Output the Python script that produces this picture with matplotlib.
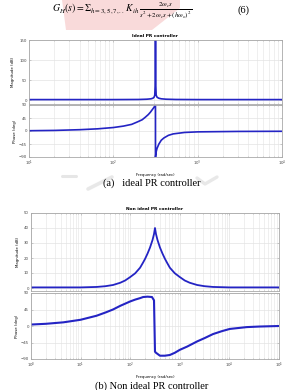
import numpy as np
import matplotlib
matplotlib.use("Agg")
import matplotlib.pyplot as plt
from matplotlib.patches import Polygon

# ---------------- data ----------------
# (a) ideal PR controller, frequency in rad/s
ideal_mag_w = [10, 100, 200, 250, 280, 295, 304, 310, 314, 316.2,
               318.5, 322, 330, 345, 370, 420, 550, 1000, 10000]
ideal_mag_db = [1, 1, 1.3, 2, 3, 4.5, 7, 12, 40, 170,
                40, 12, 7, 4.5, 3, 2, 1.3, 1, 1]
ideal_ph_w = [10, 20, 40, 65, 100, 132, 165, 195, 220, 240, 260, 275, 288, 300, 308, 313, 316.0,
              316.3, 322, 330, 347, 370, 398, 450, 513, 700, 1000, 3000, 10000]
ideal_ph_deg = [1, 2, 4.5, 7.5, 12, 17, 23, 32, 39, 48, 57, 65, 73, 80, 85, 88, 90,
                -90, -72, -60, -45, -32, -24, -15, -10, -5, -3, -1.5, -1]

# (b) non ideal PR controller
non_mag_w = [1, 10, 21, 31.6, 45, 63, 79, 100, 126, 158, 182, 200, 224, 251, 282, 302, 316,
             331, 355, 398, 447, 501, 550, 631, 794, 1000, 1259, 1585, 2239, 3162, 4677, 10000, 100000]
non_mag_db = [0.4, 0.4, 0.7, 1.2, 2, 3.5, 5, 7.3, 9.8, 13.5, 17, 19.5, 23, 27, 32, 36, 40,
              36, 32, 27, 23, 19.5, 17, 13.5, 9.8, 7.3, 5, 3.5, 2, 1.2, 0.7, 0.4, 0.4]
non_ph_w = [1, 2, 4.5, 10, 21, 32, 45, 63, 100, 126, 158, 182, 224, 275, 302, 316,
            331, 398, 501, 631, 794, 1000, 1413, 2240, 3162, 4680, 7080, 10200, 22400, 39800, 100000]
non_ph_deg = [4, 6, 10, 17, 28, 37, 45, 55, 67, 72, 76, 79, 80, 79, 70, -70,
              -73, -81, -81, -79, -73, -65, -56, -42, -33, -22, -14, -8, -3, -1.5, 0]

ideal_mag_ticks = [0, 50, 100, 150]
non_mag_ticks = [0, 10, 20, 30, 40, 50]
phase_ticks = [-90, -45, 0, 45, 90]

title_a = "Ideal PR controller"
title_b = "Non ideal PR controller"
caption_a = "(a)   ideal PR controller"
caption_b = "(b) Non ideal PR controller"
ylab_mag = "Magnitude (dB)"
ylab_ph = "Phase (deg)"
xlab = "Frequency (rad/sec)"

# ---------------- figure ----------------
W, H = 304, 390
fig = plt.figure(figsize=(W / 100, H / 100), dpi=100)
fig.patch.set_facecolor("white")

def fx(x):
    return x / W

def fy(y):
    return 1 - y / H

def box(x0, y0, x1, y1):
    return [fx(x0), fy(y1), fx(x1) - fx(x0), fy(y0) - fy(y1)]

# pink highlight behind the equation
bg = fig.add_axes([0, 0, 1, 1], zorder=-5)
bg.set_xlim(0, W)
bg.set_ylim(H, 0)
bg.axis("off")
bg.add_patch(Polygon([[62, 0], [180, 0], [180, 8], [152, 30], [66, 30]],
                     closed=True, facecolor="#f8d4d4", edgecolor="none", alpha=0.85))
# faint watermark strokes near caption (a)
bg.plot([62, 76], [176, 176], color="#e6e6e6", lw=2.2, solid_capstyle="round")
bg.plot([88, 112], [189, 177], color="#e8e8e8", lw=2.6, solid_capstyle="round")
bg.plot([197, 205, 217], [178, 184, 177], color="#e8e8e8", lw=2.4, solid_capstyle="round")

fig.text(fx(122), fy(10.5),
         r"$G_H(s) = \Sigma_{h=3,5,7,..}\,K_{ih}\,\frac{2\omega_c s}{s^2+2\omega_c s+(h\omega_o)^2}$",
         ha="center", va="center", fontsize=7.0, math_fontfamily="stix")
fig.text(fx(243), fy(10), "(6)", ha="center", va="center", fontsize=7.5,
         family="Liberation Serif")

BLUE = "#2424c4"
GRID = "#e3e3e3"
SPINE = "#a8a8a8"

def style(ax, xlim, ylim, yticks, show_x):
    ax.set_xscale("log")
    ax.set_xlim(*xlim)
    ax.set_ylim(*ylim)
    ax.set_yticks(yticks)
    ax.grid(True, which="major", color=GRID, lw=0.5)
    ax.grid(True, which="minor", axis="x", color=GRID, lw=0.4)
    for s in ax.spines.values():
        s.set_color(SPINE)
        s.set_linewidth(0.6)
    ax.tick_params(which="both", direction="in", length=1.5, width=0.4,
                   colors=SPINE, labelsize=2.8, labelcolor="#444444", pad=1.5,
                   top=True, right=True)
    ax.tick_params(which="minor", length=0.8)
    if not show_x:
        ax.tick_params(axis="x", which="both", labelbottom=False)

# ---- (a) ideal ----
ax1 = fig.add_axes(box(29, 40, 282, 104))
ax1.plot(ideal_mag_w, ideal_mag_db, color=BLUE, lw=1.2)
style(ax1, (10, 10000), (-10, 150), ideal_mag_ticks, False)
ax1.set_title(title_a, fontsize=3.2, fontweight="bold", pad=2.5)
ax1.set_ylabel(ylab_mag, fontsize=2.8, labelpad=3)

ax2 = fig.add_axes(box(29, 105, 282, 157))
ax2.plot(ideal_ph_w, ideal_ph_deg, color=BLUE, lw=1.2)
style(ax2, (10, 10000), (-90, 90), phase_ticks, True)
ax2.set_ylabel(ylab_ph, fontsize=2.8, labelpad=1.5)
ax2.set_xlabel(xlab, fontsize=2.8, labelpad=3)

fig.text(fx(152), fy(183), caption_a, ha="center", va="center", fontsize=7.5,
         family="Liberation Serif")

# ---- (b) non ideal ----
ax3 = fig.add_axes(box(31, 213, 279, 291))
ax3.plot(non_mag_w, non_mag_db, color=BLUE, lw=1.3)
style(ax3, (1, 100000), (-2, 50), non_mag_ticks, False)
ax3.set_title(title_b, fontsize=3.2, fontweight="bold", pad=2.5)
ax3.set_ylabel(ylab_mag, fontsize=2.8, labelpad=3)

ax4 = fig.add_axes(box(31, 293, 279, 359))
ax4.plot(non_ph_w, non_ph_deg, color=BLUE, lw=1.5)
style(ax4, (1, 100000), (-90, 90), phase_ticks, True)
ax4.set_ylabel(ylab_ph, fontsize=2.8, labelpad=1.5)
ax4.set_xlabel(xlab, fontsize=2.8, labelpad=3)

fig.text(fx(152), fy(386), caption_b, ha="center", va="center", fontsize=7.5,
         family="Liberation Serif")

fig.savefig("out.png", dpi=100, facecolor="white")
